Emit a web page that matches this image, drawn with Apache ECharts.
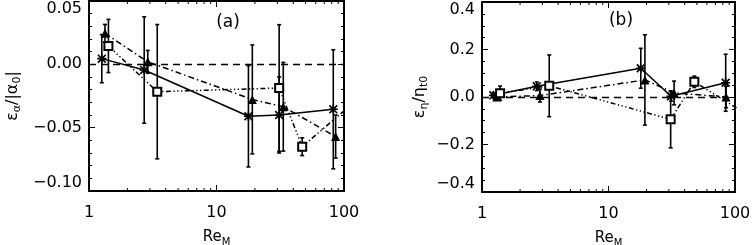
<!DOCTYPE html>
<html><head><meta charset="utf-8">
<script src="https://cdn.jsdelivr.net/npm/echarts@6/dist/echarts.min.js"></script>
<style>html,body{margin:0;padding:0;background:#fff}#c{width:752px;height:245px}</style>
</head><body><div id="c"></div>
<script>
// ---------- Panel (a) data ----------
const aStarX = [1.26, 2.71, 17.8, 31, 82.4];
const aStarY = [0.0045, -0.0045, -0.041, -0.040, -0.0355];
const aStarE = [0.019, 0.042, 0.040, 0.030, 0.047];
const aTriX  = [1.335, 2.89, 19.1, 33.4, 86];
const aTriY  = [0.0245, 0.002, -0.0277, -0.0335, -0.057];
const aTriE  = [0.007, 0.009, 0.043, 0.035, 0.017];
const aSqX   = [1.42, 3.43, 31, 47, 105];
const aSqY   = [0.0145, -0.0216, -0.0187, -0.065, -0.035];
const aSqE   = [0.021, 0.053, 0.050, 0.007, 0];
// ---------- Panel (b) data ----------
const bStarX = [1.23, 2.71, 18, 31.2, 84.4];
const bStarY = [0.007, 0.045, 0.121, 0.003, 0.06];
const bStarE = [0.01, 0.018, 0.084, 0.02, 0.12];
const bTriX  = [1.31, 2.87, 19.4, 33, 85];
const bTriY  = [0.0, 0.006, 0.072, 0.017, 0.0];
const bTriE  = [0.01, 0.027, 0.19, 0.05, 0.045];
const bSqX   = [1.39, 3.4, 31, 47.7, 105];
const bSqY   = [0.016, 0.047, -0.094, 0.064, -0.049];
const bSqE   = [0.03, 0.13, 0.12, 0.024, 0];
// ---------- axes ----------
const xMinorTicks = [2,3,4,5,6,7,8,9,20,30,40,50,60,70,80,90];
const aYRange = [-0.10, 0.05], aYStep = 0.05;
const bYRange = [-0.4, 0.4], bYStep = 0.2;

const FONT = 'DejaVu Sans';
const STAR = 'path://M0,1.3L1.3,0L10,8.7L8.7,10Z M8.7,0L10,1.3L1.3,10L0,8.7Z M4.1,0H5.9V10H4.1Z M0,4.1H10V5.9H0Z';
const minus = s => s.replace('-', '\u2212');

function errItem(params, api) {
  const x = api.value(0), lo = api.value(1), hi = api.value(2);
  const p1 = api.coord([x, lo]), p2 = api.coord([x, hi]);
  const w = 2;
  const st = {stroke: '#000', lineWidth: 1.6};
  return {type: 'group', children: [
    {type: 'line', shape: {x1: p1[0], y1: p1[1], x2: p2[0], y2: p2[1]}, style: st},
    {type: 'line', shape: {x1: p1[0]-w, y1: p1[1], x2: p1[0]+w, y2: p1[1]}, style: st},
    {type: 'line', shape: {x1: p2[0]-w, y1: p2[1], x2: p2[0]+w, y2: p2[1]}, style: st}
  ]};
}
function minorItem(params, api) {
  const p = api.coord([api.value(0), api.value(1)]);
  const cs = params.coordSys;
  const st = {stroke: '#000', lineWidth: 1};
  return {type: 'group', children: [
    {type: 'line', shape: {x1: p[0], y1: cs.y + cs.height, x2: p[0], y2: cs.y + cs.height - 3}, style: st},
    {type: 'line', shape: {x1: p[0], y1: cs.y, x2: p[0], y2: cs.y + 3}, style: st}
  ]};
}

function xAxes(gi) {
  const base = {type: 'log', logBase: 10, min: 1, max: 100, gridIndex: gi,
    axisLine: {show: true, onZero: false, lineStyle: {color: '#000', width: 2}},
    axisTick: {show: true, inside: true, length: 6, lineStyle: {color: '#000', width: 1}},
    splitLine: {show: false}};
  return [
    Object.assign({}, base, {position: 'bottom',
      axisLabel: {show: true, color: '#000', fontFamily: FONT, fontSize: 16, margin: 14, formatter: v => String(Math.round(v))},
      name: '{m|Re}{s|M}', nameLocation: 'middle', nameGap: 37,
      nameTextStyle: {color: '#000', fontFamily: FONT, fontSize: 15,
        rich: {m: {fontFamily: FONT, fontSize: 15, color: '#000'}, s: {fontFamily: FONT, fontSize: 10, color: '#000', padding: [9, 0, 0, 0]}}}}),
    Object.assign({}, base, {position: 'top', axisLabel: {show: false}})
  ];
}
function yAxes(gi, rng, step, minorN, dec, name, gap) {
  const base = {type: 'value', min: rng[0], max: rng[1], interval: step, gridIndex: gi,
    axisLine: {show: true, onZero: false, lineStyle: {color: '#000', width: 2}},
    axisTick: {show: true, inside: true, length: 6, lineStyle: {color: '#000', width: 1}},
    minorTick: {show: true, splitNumber: minorN, length: 3, lineStyle: {color: '#000', width: 1}},
    splitLine: {show: false}, minorSplitLine: {show: false}};
  return [
    Object.assign({}, base, {position: 'left',
      axisLabel: {show: true, color: '#000', fontFamily: FONT, fontSize: 16, margin: 7,
        verticalAlignMaxLabel: 'top', verticalAlignMinLabel: 'bottom',
        formatter: v => minus(v.toFixed(dec))},
      name: name, nameLocation: 'middle', nameGap: gap,
      nameTextStyle: {color: '#000', fontFamily: FONT, fontSize: 16,
        rich: {m: {fontFamily: FONT, fontSize: 16, color: '#000'}, s: {fontFamily: FONT, fontSize: 11, color: '#000', padding: [9, 0, 0, 0]}}}}),
    Object.assign({}, base, {position: 'right', axisLabel: {show: false}})
  ];
}

function pts(xs, ys) { return xs.map((x, i) => [x, ys[i]]); }
function errs(xs, ys, es) { return xs.map((x, i) => [x, ys[i] - es[i], ys[i] + es[i]]).filter((d, i) => es[i] > 0); }

function panelSeries(xi, yi, sets) {
  const out = [];
  out.push({type: 'custom', xAxisIndex: xi, yAxisIndex: yi, renderItem: minorItem, silent: true,
    data: xMinorTicks.map(v => [v, 0]), z: 1});
  out.push({type: 'line', xAxisIndex: xi, yAxisIndex: yi, data: [], silent: true,
    markLine: {silent: true, symbol: 'none', label: {show: false},
      lineStyle: {color: '#000', width: 1.3, type: [7, 5]}, data: [{yAxis: 0}]}});
  sets.forEach(s => {
    out.push({type: 'custom', xAxisIndex: xi, yAxisIndex: yi, renderItem: errItem, silent: true,
      data: errs(s.x, s.y, s.e), encode: {x: 0, y: [1, 2]}, z: 2});
    out.push({type: 'line', xAxisIndex: xi, yAxisIndex: yi, data: pts(s.x, s.y),
      symbol: s.sym, symbolSize: s.size, showAllSymbol: true, clip: true,
      lineStyle: {color: '#000', width: 1.5, type: s.dash},
      itemStyle: {color: '#000', borderColor: '#000', borderWidth: s.sym === 'emptyRect' ? 1.3 : 0}, z: 3});
  });
  return out;
}

const DASHDOT = [6, 3, 1.5, 3];
const DASH3DOT = [5, 2.5, 1.3, 2.5, 1.3, 2.5, 1.3, 2.5];

const option = {
  animation: false,
  backgroundColor: '#fff',
  grid: [
    {left: 89, top: 1, width: 255, height: 190, containLabel: false, outerBoundsMode: 'none'},
    {left: 482, top: 2, width: 253, height: 190, containLabel: false, outerBoundsMode: 'none'}
  ],
  xAxis: [].concat(xAxes(0), xAxes(1)),
  yAxis: [].concat(
    yAxes(0, aYRange, aYStep, 5, 2, '{m|\u03b5}{s|\u03b1}{m|/|\u03b1}{s|0}{m||}', 66),
    yAxes(1, bYRange, bYStep, 4, 1, '{m|\u03b5}{s|\u03b7}{m|/\u03b7}{s|t0}', 52)),
  series: [].concat(
    panelSeries(0, 0, [
      {x: aStarX, y: aStarY, e: aStarE, sym: STAR, size: 9, dash: 'solid'},
      {x: aTriX, y: aTriY, e: aTriE, sym: 'triangle', size: 9, dash: DASHDOT},
      {x: aSqX, y: aSqY, e: aSqE, sym: 'emptyRect', size: 8, dash: DASH3DOT}
    ]),
    panelSeries(2, 2, [
      {x: bStarX, y: bStarY, e: bStarE, sym: STAR, size: 9, dash: 'solid'},
      {x: bTriX, y: bTriY, e: bTriE, sym: 'triangle', size: 9, dash: DASHDOT},
      {x: bSqX, y: bSqY, e: bSqE, sym: 'emptyRect', size: 8, dash: DASH3DOT}
    ])
  ),
  graphic: [
    {type: 'text', x: 228, y: 23, style: {text: '(a)', font: '17px "DejaVu Sans"', fill: '#000', align: 'center', verticalAlign: 'middle'}},
    {type: 'text', x: 621, y: 21, style: {text: '(b)', font: '17px "DejaVu Sans"', fill: '#000', align: 'center', verticalAlign: 'middle'}}
  ]
};
const chart = echarts.init(document.getElementById('c'), null, {renderer: 'canvas'});
chart.setOption(option);
</script>
</body></html>
